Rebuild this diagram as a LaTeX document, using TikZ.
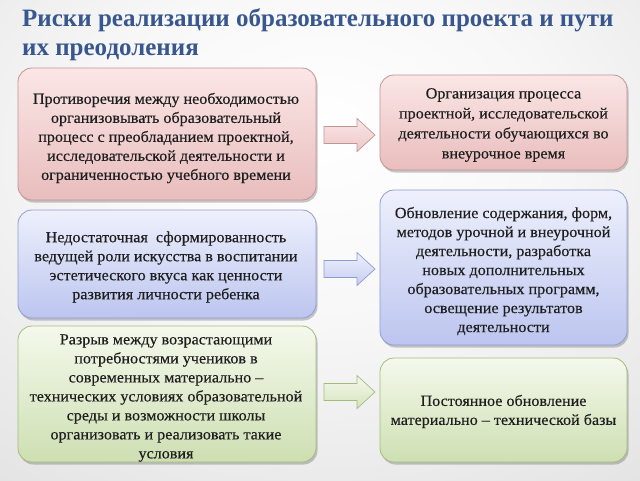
\documentclass[tikz,border=0pt]{standalone}
\usepackage{fontspec}
\setmainfont{Liberation Serif}
\newfontfamily\boxfont[FakeStretch=1.04, FakeBold=0.35]{Liberation Serif}
\usetikzlibrary{shadows}
\definecolor{titleblue}{HTML}{38578F}
\definecolor{pinktop}{HTML}{FBE6E6}
\definecolor{pinkbot}{HTML}{E9BDBD}
\definecolor{pinkedge}{HTML}{C29494}
\definecolor{bluetop}{HTML}{EEF0FC}
\definecolor{bluebot}{HTML}{BCC5EF}
\definecolor{blueedge}{HTML}{8E9CD2}
\definecolor{greentop}{HTML}{F4F9EC}
\definecolor{greenbot}{HTML}{CEDFB2}
\definecolor{greenedge}{HTML}{A3BC7C}
\definecolor{bodytext}{HTML}{1E1E1E}
\pgfdeclareradialshading{bgshade}{\pgfpoint{0bp}{12bp}}{color(0bp)=(white); color(18bp)=(white!97!black); color(60bp)=(white!83!black); color(100bp)=(white!78!black)}
\tikzset{
  box/.style={draw, rounded corners=14pt, line width=0.8pt, inner sep=0pt,
    drop shadow={shadow xshift=1.5pt, shadow yshift=-2.5pt, opacity=0.3, fill=black!70}},
  boxtext/.style={align=center, inner sep=0pt, text=bodytext,
    font=\boxfont\fontsize{15.5}{19}\selectfont},
  pinkbox/.style={box, draw=pinkedge, top color=pinktop, bottom color=pinkbot},
  bluebox/.style={box, draw=blueedge, top color=bluetop, bottom color=bluebot},
  greenbox/.style={box, draw=greenedge, top color=greentop, bottom color=greenbot},
  leftbox/.style={minimum width=298pt},
  rightbox/.style={minimum width=247pt},
  pinkarrow/.style={draw=pinkedge, line width=0.7pt, top color=pinktop, bottom color=pinkbot!85!white},
  bluearrow/.style={draw=blueedge, line width=0.7pt, top color=bluetop, bottom color=bluebot!85!white},
  greenarrow/.style={draw=greenedge, line width=0.7pt, top color=greentop, bottom color=greenbot!85!white},
  blockarrow/.pic={\path[#1] (-25.5,-8.5) -- (7.5,-8.5) -- (7.5,-16.5) -- (25.5,0) -- (7.5,16.5) -- (7.5,8.5) -- (-25.5,8.5) -- cycle;},
  titletext/.style={anchor=north west, align=left, inner sep=0pt, text=titleblue,
    font=\fontsize{25}{29}\selectfont\bfseries}
}
\begin{document}
\begin{tikzpicture}[x=1pt, y=-1pt]
  \path[use as bounding box, shading=bgshade] (0,0) rectangle (640,480);

  \node[titletext] (title) at (22,8) {Риски реализации образовательного проекта и пути\\их преодоления};

  \node[pinkbox, leftbox, minimum height=132pt] (l1) at (167,134) {};
  \node[boxtext] (l1t) at (166,138)
    {Противоречия между необходимостью\\организовывать образовательный\\процесс с преобладанием проектной,\\исследовательской деятельности и\\ограниченностью учебного времени};
  \node[bluebox, leftbox, minimum height=108pt] (l2) at (167,264) {};
  \node[boxtext] (l2t) at (166,267)
    {Недостаточная\ \ сформированность\\ведущей роли искусства в воспитании\\эстетического вкуса как ценности\\развития личности ребенка};
  \node[greenbox, leftbox, minimum height=136pt] (l3) at (167,394) {};
  \node[boxtext] (l3t) at (166,398)
    {Разрыв между возрастающими\\потребностями учеников в\\современных материально –\\технических условиях образовательной\\среды и возможности школы\\организовать и реализовать такие\\условия};

  \node[pinkbox, rightbox, minimum height=95pt] (r1) at (503.5,122.5) {};
  \node[boxtext, font=\boxfont\fontsize{15.5}{20}\selectfont] (r1t) at (503.5,125)
    {Организация процесса\\проектной, исследовательской\\деятельности обучающихся во\\внеурочное время};
  \node[bluebox, rightbox, minimum height=155pt] (r2) at (503.5,267.5) {};
  \node[boxtext] (r2t) at (503.5,271)
    {Обновление содержания, форм,\\методов урочной и внеурочной\\деятельности, разработка\\новых дополнительных\\образовательных программ,\\освещение результатов\\деятельности};
  \node[greenbox, rightbox, minimum height=104pt] (r3) at (503.5,410) {};
  \node[boxtext] (r3t) at (503.5,411.5)
    {Постоянное обновление\\материально – технической базы};

  \pic (a1) at (349.5,135) {blockarrow=pinkarrow};
  \pic (a2) at (349.5,269) {blockarrow=bluearrow};
  \pic (a3) at (349.5,392) {blockarrow=greenarrow};
\end{tikzpicture}
\end{document}
